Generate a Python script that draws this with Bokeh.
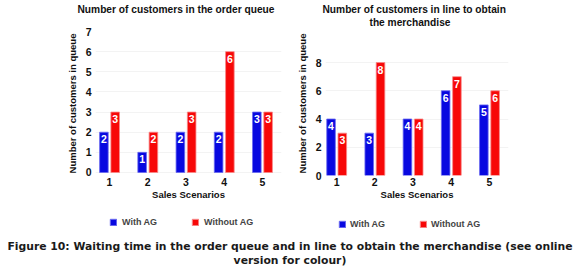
from bokeh.plotting import figure
from bokeh.models import ColumnDataSource, Legend, LegendItem, Title, FixedTicker, Range1d, Div
from bokeh.layouts import row, column
from bokeh.transform import dodge
from bokeh.core.properties import value
from bokeh.embed import file_html
from bokeh.resources import INLINE

scenarios = [1, 2, 3, 4, 5]
order_with_ag = [2, 1, 2, 2, 3]
order_without_ag = [3, 2, 3, 6, 3]
line_with_ag = [4, 3, 4, 6, 5]
line_without_ag = [3, 8, 4, 7, 6]
left_ticks = [0, 1, 2, 3, 4, 5, 6, 7]
right_ticks = [0, 2, 4, 6, 8]
series_names = ["With AG", "Without AG"]

BLUE = "#0808e0"
RED = "#f70808"
BLUE_EDGE = "#6a6af0"
RED_EDGE = "#f88a8a"
FONT = "Liberation Sans"
TOP = 31


def make_chart(title_specs, spacer, with_vals, without_vals, ticks, ystart, ymax, xstart, bl, br):
    p = figure(width=290, height=210, output_backend="svg", toolbar_location=None,
               x_range=Range1d(xstart, 5.5), y_range=Range1d(ystart, ymax),
               min_border_left=bl, min_border_right=br, min_border_top=TOP, min_border_bottom=35)
    p.outline_line_color = None
    src = ColumnDataSource(dict(x=scenarios, w=with_vals, wo=without_vals,
                                wl=[str(v) for v in with_vals], wol=[str(v) for v in without_vals]))
    p.vbar(x=dodge("x", -0.145), top="w", bottom=0, width=0.225, source=src,
           fill_color=BLUE, line_color=BLUE_EDGE, line_width=0.8)
    p.vbar(x=dodge("x", 0.15), top="wo", bottom=0, width=0.225, source=src,
           fill_color=RED, line_color=RED_EDGE, line_width=0.8)
    for col, lab, dx in (("w", "wl", -0.145), ("wo", "wol", 0.15)):
        p.text(x=dodge("x", dx), y=col, text=lab, source=src, text_color="white",
               text_font=value(FONT), text_font_style="bold", text_font_size="10.5px",
               text_align="center", text_baseline="middle", y_offset=7)
    p.xaxis.ticker = FixedTicker(ticks=scenarios)
    p.yaxis.ticker = FixedTicker(ticks=ticks)
    for ax in (p.xaxis[0], p.yaxis[0]):
        ax.axis_line_color = None
        ax.major_tick_line_color = None
        ax.minor_tick_line_color = None
        ax.major_tick_out = 0
        ax.major_tick_in = 0
        ax.minor_tick_out = 0
        ax.minor_tick_in = 0
        ax.major_label_text_font = FONT
        ax.major_label_text_font_style = "bold"
        ax.major_label_text_font_size = "10.5px"
        ax.major_label_text_color = "#111111"
        ax.axis_label_text_font = FONT
        ax.axis_label_text_font_style = "bold"
        ax.axis_label_text_font_size = "9.5px"
        ax.axis_label_text_color = "#111111"
    p.xaxis.axis_label = "Sales Scenarios"
    p.yaxis.axis_label = "Number of customers in queue"
    p.xaxis.major_label_standoff = 2
    p.xaxis.axis_label_standoff = 0
    p.yaxis.major_label_standoff = 4
    p.yaxis.axis_label_standoff = 5
    p.xgrid.grid_line_color = None
    p.ygrid.grid_line_color = "#f3f3f3"
    # spacer that lifts the title lines away from the plot area
    p.add_layout(Title(text=" ", text_font_size="1px", standoff=spacer), "above")
    for text, off in title_specs:
        t = Title(text=text, align="left", offset=off, text_font=FONT,
                  text_font_style="bold", text_font_size="10.2px", text_color="#111111",
                  standoff=0)
        p.add_layout(t, "above")
    return p


def make_legend(x, y, standoff, spacing):
    lp = figure(width=290, height=24, output_backend="svg", toolbar_location=None,
                x_range=Range1d(0, 1), y_range=Range1d(0, 1),
                min_border_left=0, min_border_right=0, min_border_top=0, min_border_bottom=0,
                x_axis_location=None, y_axis_location=None)
    lp.outline_line_color = None
    lp.grid.grid_line_color = None
    # legend swatches only (kept outside the visible range)
    dummy = ColumnDataSource(dict(x=[10], top=[1]))
    r1 = lp.vbar(x="x", top="top", width=0.1, source=dummy, fill_color=BLUE, line_color=BLUE_EDGE)
    r2 = lp.vbar(x="x", top="top", width=0.1, source=dummy, fill_color=RED, line_color=RED_EDGE)
    legend = Legend(items=[LegendItem(label=series_names[0], renderers=[r1]),
                           LegendItem(label=series_names[1], renderers=[r2])],
                    orientation="horizontal", location=(x, y),
                    glyph_width=8, glyph_height=8, label_standoff=standoff, spacing=spacing,
                    label_text_font=FONT, label_text_font_style="bold",
                    label_text_font_size="9px", label_height=9, label_width=10,
                    padding=0, margin=0,
                    border_line_color=None, background_fill_alpha=0)
    lp.add_layout(legend, "center")
    return lp


p1 = make_chart([("Number of customers  in the order queue", -18)], 14,
                order_with_ag, order_without_ag, left_ticks, -0.149, 7, 0.635, 95, 9)
p2 = make_chart([("the merchandise", 44), ("Number of customers  in line to obtain", -3)], 1,
                line_with_ag, line_without_ag, right_ticks, 0, 10.2, 0.71, 35, 72)

l1 = make_legend(109, 7, 5, 34)
l2 = make_legend(48, 5, 4, 34)

caption = Div(text="Figure 10: Waiting time in the order queue and in line to obtain the merchandise (see online<br>version for colour)",
              width=580, height=43, margin=(0, 0, 0, 0),
              styles={"font-family": "DejaVu Sans", "font-weight": "bold", "font-size": "10.8px",
                      "line-height": "14px", "padding-top": "6px", "text-align": "center",
                      "color": "#1a1a1a", "white-space": "nowrap", "width": "580px",
                      "box-sizing": "border-box"})

layout = column(row(p1, p2, spacing=0), row(l1, l2, spacing=0), caption, spacing=0)
open("out.html", "w").write(file_html(layout, INLINE))
